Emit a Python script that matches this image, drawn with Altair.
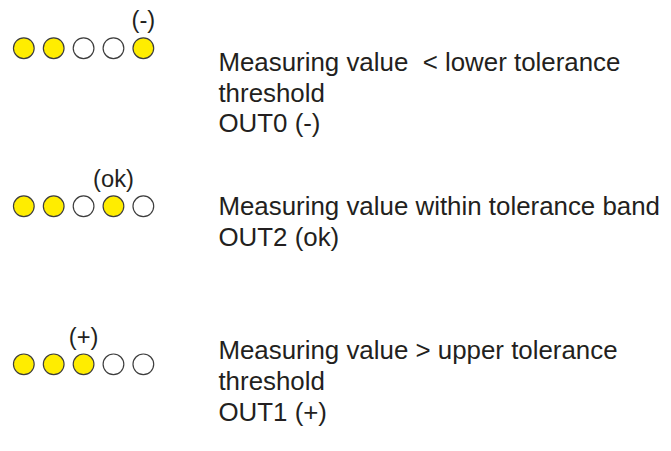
import altair as alt
import pandas as pd

# ---- data ----
state_labels = ["(-)", "(ok)", "(+)"]
lamp_patterns = [
    [1, 1, 0, 0, 1],
    [1, 1, 0, 1, 0],
    [1, 1, 1, 0, 0],
]
label_lamp = [4, 3, 2]
descriptions = [
    ["Measuring value \u00a0< lower tolerance", "threshold", "OUT0 (-)"],
    ["Measuring value within tolerance band", "OUT2 (ok)"],
    ["Measuring value > upper tolerance", "threshold", "OUT1 (+)"],
]

# ---- tables ----
lamps = pd.DataFrame(
    [
        {"row": r, "lamp": i, "state": "on" if v else "off"}
        for r, pat in enumerate(lamp_patterns)
        for i, v in enumerate(pat)
    ]
)
labels = pd.DataFrame(
    [{"row": r, "lamp": label_lamp[r], "label": state_labels[r]} for r in range(3)]
)
texts = pd.DataFrame(
    [{"row": r, "text": "\n".join(descriptions[r])} for r in range(3)]
)

xs = alt.Scale(domain=[0, 4], range=[16, 137], zero=False, nice=False)
ys = alt.Scale(domain=[0, 2], range=[38, 358], zero=False, nice=False)
ts = alt.Scale(domain=[0, 2], range=[61, 353], zero=False, nice=False)

FONT = "Liberation Sans"
TXT = "#231f20"

circles = alt.Chart(lamps).mark_circle(
    size=440, opacity=1, stroke="#3d3d3d", strokeWidth=1.2
).encode(
    x=alt.X("lamp:Q", scale=xs, axis=None),
    y=alt.Y("row:Q", scale=ys, axis=None),
    fill=alt.Fill(
        "state:N",
        scale=alt.Scale(domain=["on", "off"], range=["#ffed00", "#ffffff"]),
        legend=None,
    ),
)

state_text = alt.Chart(labels).mark_text(
    font=FONT, fontSize=24, color=TXT, baseline="middle", align="center", dy=-27
).encode(
    x=alt.X("lamp:Q", scale=xs, axis=None),
    y=alt.Y("row:Q", scale=ys, axis=None),
    text="label:N",
)

desc_text = alt.Chart(texts).mark_text(
    font=FONT, fontSize=26.2, color=TXT, baseline="alphabetic", align="left",
    lineBreak="\n", lineHeight=31,
).encode(
    x=alt.value(213),
    y=alt.Y("row:Q", scale=ts, axis=None),
    text="text:N",
)

chart = (
    alt.layer(circles, state_text, desc_text)
    .resolve_scale(y="independent")
    .properties(width=663, height=443, padding=0, autosize=alt.AutoSizeParams(type="none"))
    .configure_view(stroke=None)
)

chart.save("out.html", embed_options={"renderer": "svg", "actions": False})
